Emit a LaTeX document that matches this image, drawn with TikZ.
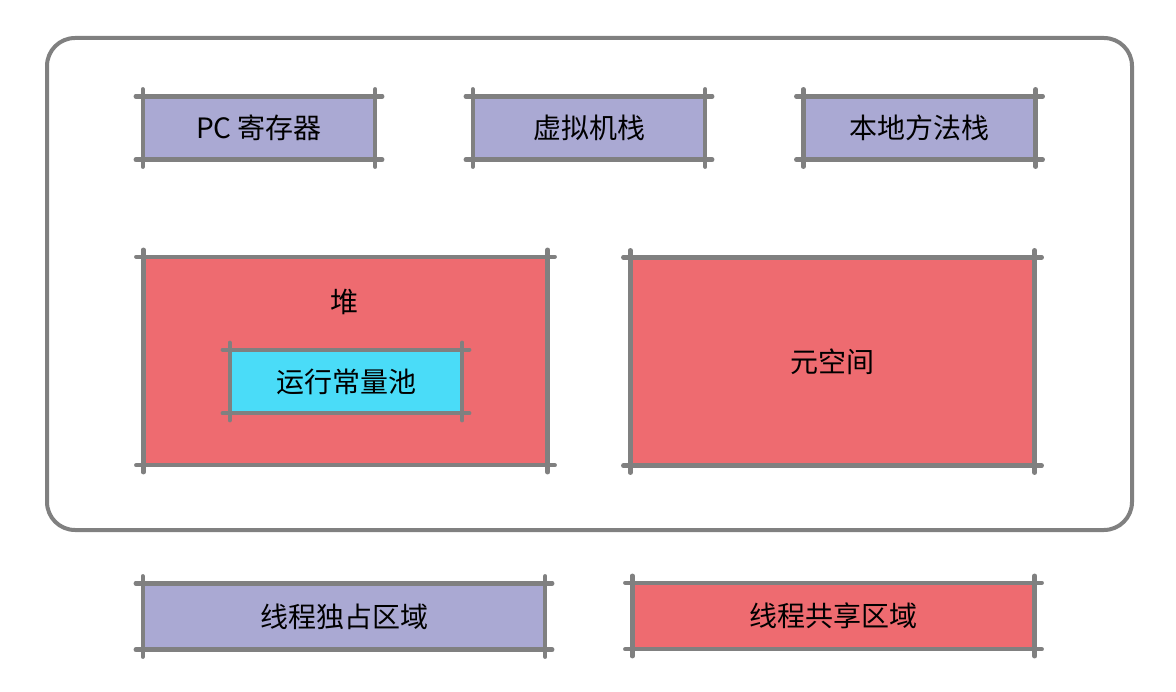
\documentclass[tikz,border=0pt]{standalone}
\usepackage{fontspec}
\newfontfamily\cjk{Noto Sans CJK SC}
\usetikzlibrary{positioning}
\definecolor{frame}{HTML}{808080}
\definecolor{own}{HTML}{AAA9D3}
\definecolor{shared}{HTML}{EE6B70}
\definecolor{pool}{HTML}{4ADCF8}
% hand-drawn look: edges run a little past the corners
\newcommand{\rough}[1]{%
 \draw[edge] ([xshift=-7pt]#1.north west)--([xshift=7pt]#1.north east);
 \draw[edge] ([xshift=-7pt]#1.south west)--([xshift=7pt]#1.south east);
 \draw[edge] ([yshift=7pt]#1.north west)--([yshift=-7pt]#1.south west);
 \draw[edge] ([yshift=7pt]#1.north east)--([yshift=-7pt]#1.south east);}
\begin{document}
\begin{tikzpicture}[x=1pt,y=-1pt,
 box/.style={inner sep=0pt,font=\cjk\fontsize{28}{32}\selectfont},
 small/.style={box,minimum width=232pt,minimum height=63pt},
 big/.style={box,minimum width=404pt,minimum height=208pt},
 legend/.style={box,minimum width=402pt,minimum height=66pt},
 edge/.style={draw=frame,line width=4.5pt,line cap=round}]
\useasboundingbox (0,0) rectangle (1176,692);
\node[draw=frame,line width=4pt,rounded corners=28pt,minimum width=1085pt,minimum height=492pt] (jvm) at (589.5,284) {};
\node[small,fill=own] (pc) at (259,128) {PC 寄存器};
\node[small,fill=own] (vms) at (589,128) {虚拟机栈};
\node[small,fill=own] (nms) at (919.5,128) {本地方法栈};
\node[big,fill=shared] (heap) at (345.5,361) {};
\node[box] (heapt) at (344,302) {堆};
\node[small,fill=pool] (rcp) at (346,381.5) {运行常量池};
\node[big,fill=shared] (meta) at (832.5,361.5) {元空间};
\node[legend,fill=own] (lown) at (344,616.5) {线程独占区域};
\node[legend,fill=shared] (lshr) at (833.5,616) {线程共享区域};
\rough{pc}\rough{vms}\rough{nms}\rough{heap}\rough{rcp}\rough{meta}\rough{lown}\rough{lshr}
\end{tikzpicture}
\end{document}
